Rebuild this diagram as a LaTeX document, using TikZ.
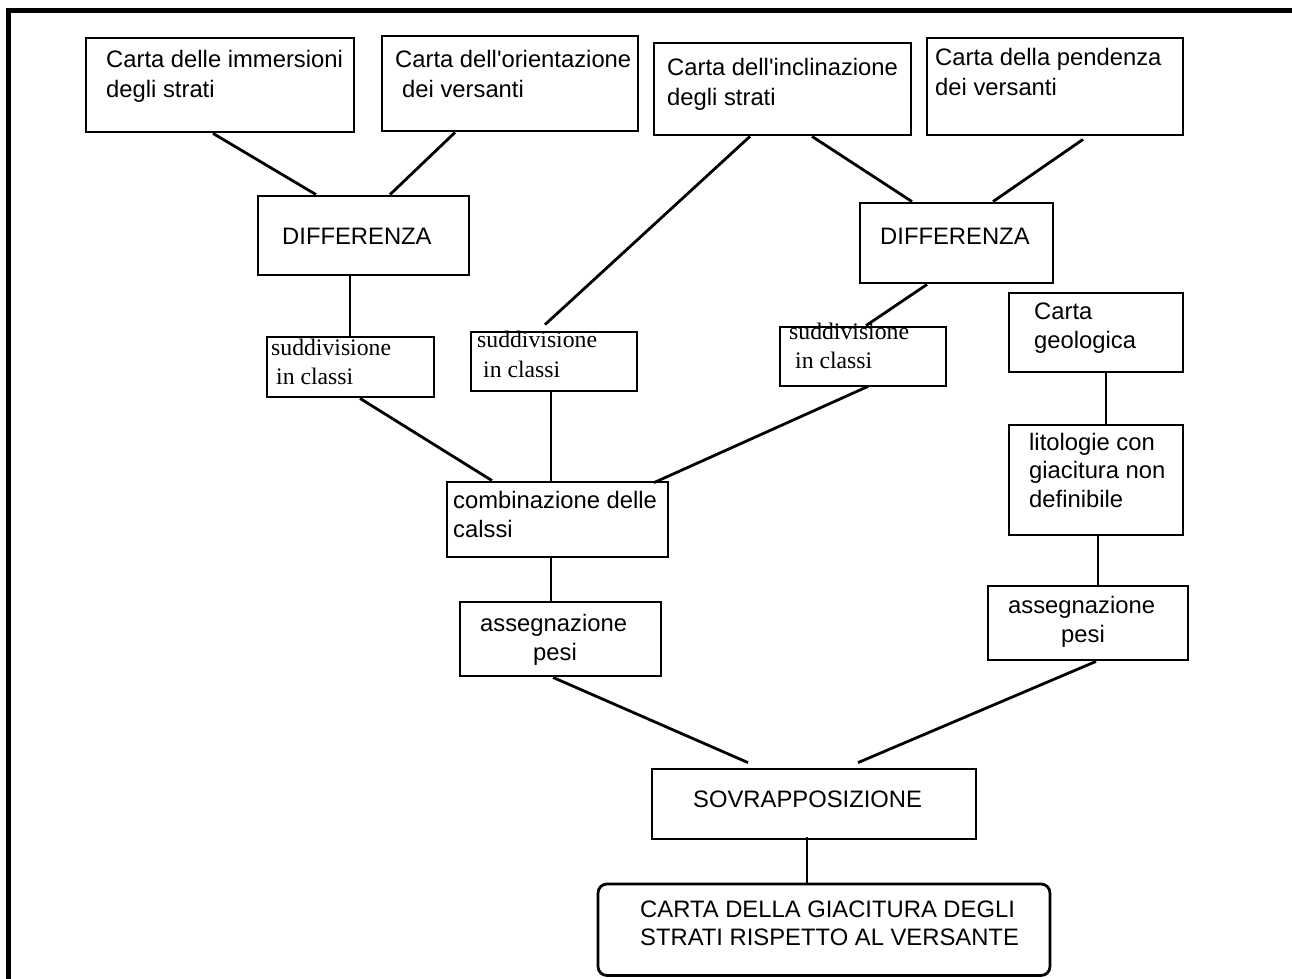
\documentclass[tikz,border=0pt]{standalone}
\usepackage{fontspec}
\setmainfont{Liberation Sans}
\newfontfamily\timesfont{Liberation Serif}
\usetikzlibrary{fit}
\begin{document}
\begin{tikzpicture}[x=1pt,y=-1pt,
  boxn/.style={draw, line width=2.8pt, inner sep=0pt, rectangle},
  roundboxn/.style={boxn, rounded corners=9pt},
  lbl/.style={anchor=base west, inner sep=0pt, font=\fontsize{23.8}{29}\selectfont},
  slbl/.style={anchor=base west, inner sep=0pt, font=\timesfont\fontsize{23.7}{29}\selectfont},
  link/.style={line width=2.8pt}]
\useasboundingbox (0,0) rectangle (1292,978);
\fill[white] (0,0) rectangle (1292,978);
% outer frame (left and top edges)
\draw[line width=5pt] (8.5,980) -- (8.5,10.5) -- (1295,10.5);

% boxes
\node[boxn, fit={(86,38) (354,132)}] (b1) {};
\node[boxn, fit={(382,36) (638,131)}] (b2) {};
\node[boxn, fit={(654,43) (911,135)}] (b3) {};
\node[boxn, fit={(927,38) (1183,135)}] (b4) {};
\node[boxn, fit={(258,196) (469,275)}] (d1) {};
\node[boxn, fit={(860,203) (1053,283)}] (d2) {};
\node[boxn, fit={(267,337) (434,397)}] (s1) {};
\node[boxn, fit={(471,332) (637,391)}] (s2) {};
\node[boxn, fit={(780,327) (946,386)}] (s3) {};
\node[boxn, fit={(1009,293) (1183,372)}] (cg) {};
\node[boxn, fit={(447,482) (668,557)}] (cb) {};
\node[boxn, fit={(460,602) (661,676)}] (a1) {};
\node[boxn, fit={(1009,425) (1183,535)}] (lt) {};
\node[boxn, fit={(988,586) (1188,660)}] (a2) {};
\node[boxn, fit={(652,769) (976,839)}] (sv) {};
\node[roundboxn, fit={(598,884) (1050,975.5)}] (fn) {};

% texts
\node[lbl] (b1a) at (106,67) {Carta delle immersioni};
\node[lbl] (b1b) at (106,97) {degli strati};
\node[lbl] (b2a) at (395,67) {Carta dell\textquotesingle orientazione};
\node[lbl] (b2b) at (402,97) {dei versanti};
\node[lbl] (b3a) at (667,75) {Carta dell\textquotesingle inclinazione};
\node[lbl] (b3b) at (667,105) {degli strati};
\node[lbl] (b4a) at (935,65) {Carta della pendenza};
\node[lbl] (b4b) at (935,95) {dei versanti};
\node[lbl] (d1a) at (282,244) {DIFFERENZA};
\node[lbl] (d2a) at (880,244) {DIFFERENZA};
\node[slbl] (s1a) at (271,355) {suddivisione};
\node[slbl] (s1b) at (276,384) {in classi};
\node[slbl] (s2a) at (477,347) {suddivisione};
\node[slbl] (s2b) at (483,377) {in classi};
\node[slbl] (s3a) at (789,339) {suddivisione};
\node[slbl] (s3b) at (795,368) {in classi};
\node[lbl] (cga) at (1034,319) {Carta};
\node[lbl] (cgb) at (1034,348) {geologica};
\node[lbl] (cba) at (453,508) {combinazione delle};
\node[lbl] (cbb) at (453,537) {calssi};
\node[lbl] (a1a) at (480,631) {assegnazione};
\node[lbl] (a1b) at (533,660) {pesi};
\node[lbl] (lta) at (1029,450) {litologie con};
\node[lbl] (ltb) at (1029,478) {giacitura non};
\node[lbl] (ltc) at (1029,507) {definibile};
\node[lbl] (a2a) at (1008,613) {assegnazione};
\node[lbl] (a2b) at (1061,642) {pesi};
\node[lbl] (sva) at (693,807) {SOVRAPPOSIZIONE};
\node[lbl] (fna) at (640,917) {CARTA DELLA GIACITURA DEGLI};
\node[lbl] (fnb) at (640,945) {STRATI RISPETTO AL VERSANTE};

% connectors
\draw[link] ([xshift=-7pt]b1.south) -- ([xshift=-47.5pt]d1.north);
\draw[link] ([xshift=-55pt]b2.south) -- ([xshift=26.5pt]d1.north);
\draw[link] ([xshift=-32.5pt]b3.south) -- ([xshift=-9pt,yshift=6pt]s2.north);
\draw[link] ([xshift=29.5pt]b3.south) -- ([xshift=-44.5pt]d2.north);
\draw[link] ([xshift=28pt,yshift=-3pt]b4.south) -- ([xshift=36.5pt]d2.north);
\draw[link] ([xshift=-13.5pt]d1.south) -- ([xshift=-0.5pt]s1.north);
\draw[link] ([xshift=-29.5pt]d2.south) -- ([xshift=3pt]s3.north);
\draw[link] ([xshift=9.5pt]s1.south) -- ([xshift=-65.5pt]cb.north);
\draw[link] ([xshift=-3pt,yshift=2pt]s2.south) -- ([xshift=-6.5pt]cb.north);
\draw[link] ([xshift=5pt,yshift=1pt]s3.south) -- ([xshift=96.5pt,yshift=-2pt]cb.north);
\draw[link] ([xshift=10pt]cg.south) -- ([xshift=10pt]lt.north);
\draw[link] ([xshift=-6.5pt]cb.south) -- ([xshift=-9.5pt]a1.north);
\draw[link] ([xshift=2pt]lt.south) -- ([xshift=10pt]a2.north);
\draw[link] ([xshift=-7.5pt]a1.south) -- ([xshift=-66pt,yshift=5pt]sv.north);
\draw[link] ([xshift=8pt]a2.south) -- ([xshift=44pt,yshift=5pt]sv.north);
\draw[link] ([xshift=-7pt,yshift=3pt]sv.south) -- ([xshift=-17pt]fn.north);
\end{tikzpicture}
\end{document}
